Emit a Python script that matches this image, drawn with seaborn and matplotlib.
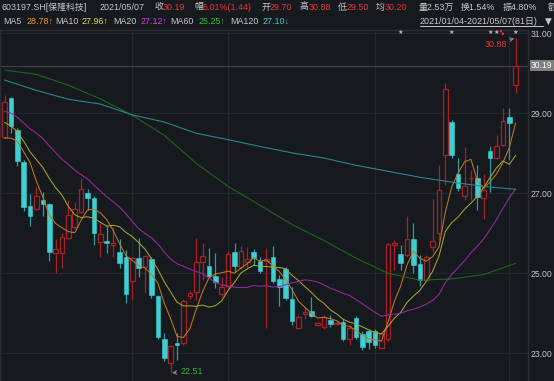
import numpy as np
import pandas as pd
import matplotlib
matplotlib.use("Agg")
import matplotlib.pyplot as plt
from matplotlib.lines import Line2D
from matplotlib.transforms import blended_transform_factory
import seaborn as sns

# ---------------- data ----------------
opens = [28.40, 29.38, 28.58, 27.78, 26.68, 26.60, 26.83, 26.73, 25.50, 25.50,
         25.88, 26.15, 26.53, 27.00, 26.88, 25.78, 25.80, 25.70, 25.53, 25.40,
         24.80, 25.38, 25.15, 25.35, 24.43, 23.35, 22.75, 23.25, 23.25, 24.43,
         24.53, 25.28, 25.18, 24.93, 24.48, 24.68, 25.53, 25.15, 25.28, 25.53,
         25.30, 25.30, 25.40, 24.85, 25.10, 24.35, 23.63, 23.98, 24.05, 23.70,
         23.65, 23.83, 23.73, 23.78, 23.35, 23.88, 23.48, 23.55, 23.55, 23.13,
         23.35, 25.70, 25.48, 25.45, 25.85, 25.23, 24.83, 25.65, 26.00, 27.95,
         28.78, 27.48, 26.93, 27.37, 27.38, 26.88, 28.05, 27.88, 28.20, 28.90,
         29.70]
highs = [29.45, 29.40, 28.62, 27.83, 26.98, 27.15, 27.03, 26.75, 25.85, 26.00,
         26.83, 26.78, 27.38, 27.10, 26.93, 26.25, 26.20, 26.15, 25.85, 25.58,
         25.40, 25.88, 25.45, 25.40, 24.45, 23.50, 23.20, 23.50, 24.35, 24.55,
         25.88, 25.75, 25.63, 25.50, 24.90, 25.55, 25.75, 25.68, 25.65, 25.60,
         25.40, 25.63, 25.68, 24.95, 25.15, 24.65, 23.95, 24.15, 24.40, 23.78,
         23.95, 23.95, 23.80, 23.85, 23.70, 23.93, 23.55, 23.60, 23.60, 23.50,
         25.75, 25.83, 25.70, 26.43, 26.25, 25.45, 25.45, 26.85, 27.70, 29.75,
         28.83, 27.88, 28.15, 27.58, 27.70, 27.48, 28.18, 28.45, 29.13, 29.13,
         30.88]
lows = [28.35, 28.50, 27.68, 26.55, 26.18, 26.58, 26.43, 25.30, 25.00, 25.13,
        25.85, 26.10, 26.50, 26.58, 25.70, 25.40, 25.50, 25.40, 25.13, 24.25,
        24.33, 24.90, 24.50, 24.38, 23.35, 22.80, 22.51, 22.83, 23.20, 24.35,
        24.33, 24.83, 24.90, 24.63, 24.40, 24.60, 25.03, 25.10, 25.10, 25.20,
        25.00, 23.63, 24.75, 24.18, 24.33, 23.70, 23.60, 23.85, 23.90, 23.68,
        23.60, 23.65, 23.72, 23.30, 23.20, 23.35, 23.08, 23.10, 23.13, 23.10,
        23.30, 25.08, 25.08, 25.40, 25.00, 24.68, 24.80, 25.53, 25.83, 27.20,
        27.88, 27.05, 26.83, 26.83, 26.58, 26.35, 27.03, 27.85, 28.18, 27.83,
        29.50]
closes = [29.28, 28.68, 27.80, 26.65, 26.43, 26.93, 26.73, 25.53, 25.60, 25.90,
          26.45, 26.60, 27.10, 26.88, 26.00, 25.98, 25.75, 25.75, 25.25, 24.48,
          25.38, 25.13, 25.43, 24.45, 23.40, 22.88, 23.18, 23.22, 24.30, 24.50,
          25.28, 25.43, 24.93, 24.78, 24.65, 25.48, 25.18, 25.55, 25.35, 25.38,
          25.05, 25.35, 24.80, 24.65, 24.38, 23.80, 23.90, 24.03, 23.93, 23.75,
          23.90, 23.73, 23.76, 23.35, 23.63, 23.40, 23.15, 23.28, 23.22, 23.48,
          25.73, 25.75, 25.25, 25.85, 25.20, 24.83, 25.40, 25.80, 27.08, 29.60,
          27.95, 27.13, 27.18, 27.38, 26.90, 27.08, 27.88, 28.18, 28.80, 28.75,
          30.19]
# closes of the 19 sessions before 2021/01/04
prior_closes = [29.6, 29.9, 29.5, 29.3, 29.1, 29.4, 29.2, 29.0, 29.3, 29.0,
                29.5, 29.3, 29.0, 29.1, 28.9, 28.68, 28.20, 27.95, 27.79]

ma_long_idx = [0, 5, 10, 15, 20, 25, 30, 35, 40, 45, 50, 55, 60, 65, 70, 75, 80]
ma60_vals = [30.08, 29.97, 29.70, 29.36, 28.95, 28.45, 27.75, 27.17, 26.70,
             26.22, 25.82, 25.38, 25.00, 24.83, 24.86, 24.97, 25.25]
ma120_vals = [29.83, 29.57, 29.35, 29.23, 28.96, 28.78, 28.50, 28.34, 28.17,
              28.01, 27.88, 27.70, 27.55, 27.40, 27.28, 27.17, 27.10]

holidays = ["2021-02-11", "2021-02-12", "2021-02-15", "2021-02-16",
            "2021-02-17", "2021-04-05", "2021-05-03", "2021-05-04", "2021-05-05"]
star_idx = [62, 70, 76, 77, 80]
flag_idx = [78]
yticks = [23, 25, 27, 29, 31]

ma_names = ["MA5", "MA10", "MA20", "MA60", "MA120"]
ma_header_vals = ["28.78↑", "27.96↑", "27.12↑", "25.25↑", "27.10↓"]

# ---------------- style ----------------
BG = "#16191e"
GRID = "#24272d"
RED = "#a82128"
CYAN = "#3ecfd3"
CYAN_W = "#2d9ea2"
TXT = "#c9c9c9"
RED_T = "#e8363c"
MA_LINE = ["#c07a1c", "#aaa52c", "#9a2a9e", "#1e6a1e", "#2b868c"]
MA_TXT = ["#ef9526", "#e4e23a", "#de3fe6", "#2fbf2f", "#3fc6cc"]
FS = 6.4

sns.set_theme(style="dark", rc={"axes.facecolor": BG, "figure.facecolor": BG,
                                "savefig.facecolor": BG})
plt.rcParams["font.family"] = ["Liberation Sans", "Noto Sans CJK SC", "DejaVu Sans"]

W, H = 554, 381
fig = plt.figure(figsize=(W / 100, H / 100), dpi=100)
ax = fig.add_axes([0, 0, 528 / W, 351 / H])
ax.set_facecolor(BG)

o = np.array(opens); h = np.array(highs); l = np.array(lows); c = np.array(closes)
n = len(c)
x = np.arange(n)

dates = pd.bdate_range("2021-01-04", "2021-05-07")
dates = dates[~dates.isin(pd.to_datetime(holidays))]
month_first = [i for i in range(1, n) if dates[i].month != dates[i - 1].month]

# grid
for yv in yticks:
    ax.axhline(yv, color=GRID, lw=0.9, zorder=0)
for i in month_first:
    ax.axvline(i, color=GRID, lw=0.9, zorder=0)

# last price line
ax.axhline(c[-1], color="#3b3f45", lw=1.0, zorder=1)

# candles
up = c >= o
dn = ~up
ax.vlines(x[dn], l[dn], h[dn], color=CYAN_W, lw=0.9, zorder=2)
ax.vlines(x[up], l[up], o[up], color=RED, lw=0.9, zorder=2)
ax.vlines(x[up], c[up], h[up], color=RED, lw=0.9, zorder=2)
ax.bar(x[dn], o[dn] - c[dn], bottom=c[dn], width=0.72, color=CYAN,
       edgecolor=CYAN, linewidth=0.4, zorder=3)
ax.bar(x[up], np.maximum(c[up] - o[up], 0.005), bottom=o[up], width=0.72,
       facecolor=BG, edgecolor=RED, linewidth=0.9, zorder=3)

# moving averages
full = pd.Series(prior_closes + closes)
ma_short = {k: full.rolling(k).mean().iloc[len(prior_closes):].to_numpy() for k in (5, 10, 20)}
df = pd.DataFrame({"i": x, "MA5": ma_short[5], "MA10": ma_short[10], "MA20": ma_short[20]})
for name, col in zip(["MA5", "MA10", "MA20"], MA_LINE[:3]):
    sns.lineplot(data=df, x="i", y=name, ax=ax, color=col, lw=0.75, zorder=4, legend=False)
sns.lineplot(x=ma_long_idx, y=ma60_vals, ax=ax, color=MA_LINE[3], lw=0.75, zorder=4)
sns.lineplot(x=ma_long_idx, y=ma120_vals, ax=ax, color=MA_LINE[4], lw=0.8, zorder=4)

# axes setup
px = 6.39
ax.set_xlim(-4.5 / px, (528 - 4.5) / px)
ax.set_ylim(22.31, 31.08)
ax.set_xlabel(""); ax.set_ylabel("")
ax.set_xticks([])
ax.yaxis.tick_right()
ax.set_yticks(yticks)
ax.set_yticklabels([f"{v:.2f}" for v in yticks])
ax.tick_params(axis="y", length=0, pad=2.2, labelsize=6.2, labelcolor=TXT)
ax.grid(False)
for side in ["top", "left", "right"]:
    ax.spines[side].set_visible(True)
    ax.spines[side].set_color("#2b2e34")
    ax.spines[side].set_linewidth(1.0)
ax.spines["bottom"].set_visible(False)

# last price tag
tr = blended_transform_factory(ax.transAxes, ax.transData)
ax.text(1.0 + 3 / 528, c[-1], f"{c[-1]:.2f}", transform=tr, ha="left", va="center",
        fontsize=6.2, color="white", zorder=6, clip_on=False,
        bbox=dict(boxstyle="square,pad=0.15", fc="#808080", ec="none"))

# event stars / flag
trs = blended_transform_factory(ax.transData, ax.transAxes)
for i in star_idx:
    ax.text(i, 1 - 2 / 351, "★", transform=trs, ha="center", va="center",
            fontsize=4.5, color="#bdbdbd", family=["DejaVu Sans"], clip_on=False)
for i in flag_idx:
    ax.text(i - 0.25, 1 - 2 / 351, "▚", transform=trs, ha="center", va="center",
            fontsize=3.5, color=RED_T, family=["DejaVu Sans"], clip_on=False)

# high / low annotations
ih = int(np.argmax(h)); il = int(np.argmin(l))
ax.annotate(f"{h[ih]:.2f}", xy=(ih, h[ih]), xytext=(-9, -6), textcoords="offset pixels",
            ha="right", va="center", fontsize=FS, color=RED_T, zorder=6,
            arrowprops=dict(arrowstyle="->", color="#8a8a8a", lw=0.7,
                            relpos=(1.0, 0.9), shrinkA=0, shrinkB=1))
ax.annotate(f"{l[il]:.2f}", xy=(il, l[il]), xytext=(10, 1), textcoords="offset pixels",
            ha="left", va="center", fontsize=FS, color="#2fb84a", zorder=6,
            arrowprops=dict(arrowstyle="->", color="#8a8a8a", lw=0.7,
                            relpos=(0.0, 0.5), shrinkA=1, shrinkB=1))

# ---------------- header ----------------
def ftext(px_x, px_y, s, col, **kw):
    fig.text(px_x / W, 1 - px_y / H, s, color=col, fontsize=FS, ha="left",
             va="center", **kw)

r1 = 7.0
row1 = [(2, "603197.SH[保隆科技]", TXT), (100, "2021/05/07", TXT),
        (154, "收", TXT), (163, f"{c[-1]:.2f}", RED_T),
        (194, "幅", TXT), (203, "5.01%(1.44)", RED_T),
        (261, "开", TXT), (270, f"{o[-1]:.2f}", RED_T),
        (300, "高", TXT), (309, f"{h[-1]:.2f}", RED_T),
        (338, "低", TXT), (347, f"{l[-1]:.2f}", RED_T),
        (376, "均", TXT), (385, "30.20", RED_T),
        (419, "量2.53万", TXT), (461, "换1.54%", TXT),
        (503, "振4.80%", TXT), (548, "额", TXT)]
for px_x, s, col in row1:
    ftext(px_x, r1, s, col)

r2 = 21.5
name_x = [3, 55, 113, 170, 230]
val_x = [27, 82, 141, 199, 263]
for nm, vs, nx, vx, col in zip(ma_names, ma_header_vals, name_x, val_x, MA_TXT):
    ftext(nx, r2, nm, TXT)
    ftext(vx, r2, vs, col)

ftext(420, r2, "2021/01/04-2021/05/07(81日)", TXT)
fig.add_artist(Line2D([420 / W, 543 / W], [1 - 26 / H, 1 - 26 / H], color=TXT, lw=0.7))
ftext(545, r2, "▼", TXT, family=["DejaVu Sans"])

fig.savefig("out.png", dpi=100, facecolor=BG)
